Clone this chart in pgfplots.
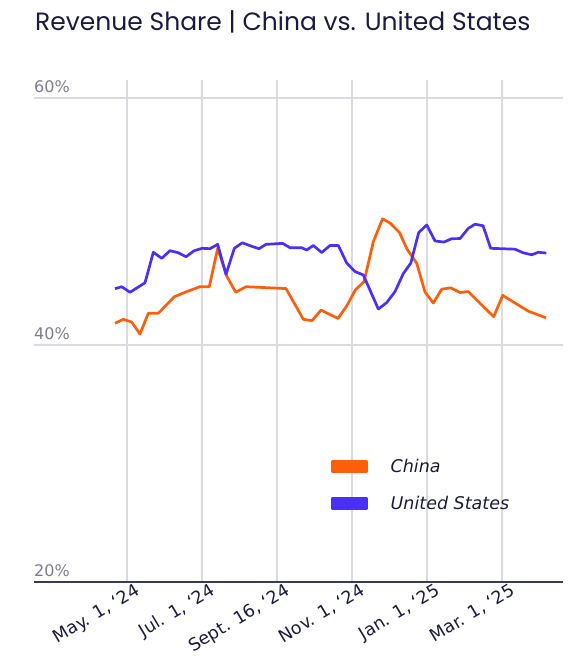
\documentclass[border=0pt]{standalone}
\usepackage{fontspec}
\setmainfont{DejaVu Sans}
\newfontfamily\titlefont{Poppins}
\usepackage{pgfplots}
\pgfplotsset{compat=1.18}
\definecolor{navy}{HTML}{1C1B3F}
\definecolor{axisnavy}{HTML}{3A3958}
\definecolor{labgray}{HTML}{7E7D8F}
\definecolor{gridgray}{HTML}{DADAE0}
\definecolor{chinaorange}{HTML}{FF5F0A}
\definecolor{usblue}{HTML}{4A30FA}
\begin{document}
\begin{tikzpicture}
\useasboundingbox (0pt,0pt) rectangle (579pt,667pt);
\node[anchor=base west, text=navy, inner sep=0pt, font=\titlefont\fontsize{25}{30}\selectfont] at (35pt,636pt) {Revenue Share | China vs. United States};
\begin{axis}[
  at={(34pt,85pt)}, anchor=south west,
  scale only axis, width=529pt, height=502pt,
  xmin=-1.24, xmax=5.813, ymin=20.81, ymax=61.46,
  axis x line*=bottom, axis y line*=left,
  x axis line style={axisnavy, line width=2pt, -},
  y axis line style={draw=none},
  major tick length=0pt,
  xtick={0,1,2,3,4,5},
  xticklabels={{May. 1, ‘24},{Jul. 1, ‘24},{Sept. 16, ‘24},{Nov. 1, ‘24},{Jan. 1, ‘25},{Mar. 1, ‘25}},
  xticklabel style={rotate=31, anchor=north east, text=navy, font=\fontsize{17.5}{20}\selectfont, inner sep=1pt, xshift=7pt, yshift=-3pt},
  ytick={20.81,40,60},
  yticklabels={20\%,40\%,60\%},
  yticklabel style={anchor=base west, inner sep=0pt, text=labgray, font=\fontsize{16}{19}\selectfont, yshift=6pt},
  xmajorgrids, ymajorgrids,
  major grid style={gridgray, line width=1.1pt},
  legend style={at={(0.561,0.245)}, anchor=north west, draw=none, fill=none, inner sep=0pt, row sep=22pt, font=\itshape\fontsize{17.5}{20}\selectfont, text=navy, nodes={inner sep=0pt}},
  legend cell align=left,
  legend image code/.code={\fill[#1] (0pt,-5.5pt) rectangle (34pt,5.5pt); \path (57pt,0pt);},
]
\addplot[color=chinaorange, line width=2.7pt, line join=round] coordinates {
(-0.160,41.76) (-0.049,42.08) (0.063,41.86) (0.173,40.89) (0.284,42.57) (0.417,42.57)
(0.631,43.91) (0.796,44.32) (0.973,44.72) (1.097,44.72) (1.209,47.83) (1.329,45.59)
(1.449,44.27) (1.587,44.72) (2.120,44.57) (2.351,42.08) (2.467,41.97) (2.587,42.83)
(2.813,42.15) (2.929,43.16) (3.047,44.48) (3.160,45.13) (3.284,48.36) (3.407,50.22)
(3.513,49.85) (3.633,49.11) (3.733,47.77) (3.863,46.62) (3.973,44.29) (4.084,43.40)
(4.196,44.52) (4.316,44.63) (4.440,44.25) (4.551,44.33) (4.663,43.64) (4.889,42.29)
(5.009,44.02) (5.351,42.74) (5.587,42.20)
};
\addlegendentry{China}
\addplot[color=usblue, line width=2.7pt, line join=round] coordinates {
(-0.160,44.56) (-0.071,44.72) (0.040,44.27) (0.240,45.04) (0.351,47.51) (0.463,47.02)
(0.573,47.64) (0.684,47.47) (0.787,47.15) (0.897,47.64) (1.004,47.83) (1.107,47.80)
(1.209,48.15) (1.320,45.72) (1.431,47.83) (1.537,48.28) (1.649,48.02) (1.760,47.80)
(1.853,48.15) (2.076,48.23) (2.173,47.88) (2.329,47.88) (2.396,47.69) (2.484,48.06)
(2.596,47.49) (2.707,48.06) (2.817,48.06) (2.929,46.64) (3.040,45.95) (3.151,45.67)
(3.351,42.91) (3.463,43.44) (3.573,44.32) (3.684,45.79) (3.783,46.62) (3.889,49.11)
(3.996,49.72) (4.107,48.42) (4.227,48.34) (4.329,48.61) (4.440,48.62) (4.551,49.45)
(4.640,49.78) (4.747,49.66) (4.849,47.83) (5.173,47.76) (5.280,47.47) (5.396,47.31)
(5.484,47.51) (5.591,47.45)
};
\addlegendentry{United States}
\end{axis}
\end{tikzpicture}
\end{document}
